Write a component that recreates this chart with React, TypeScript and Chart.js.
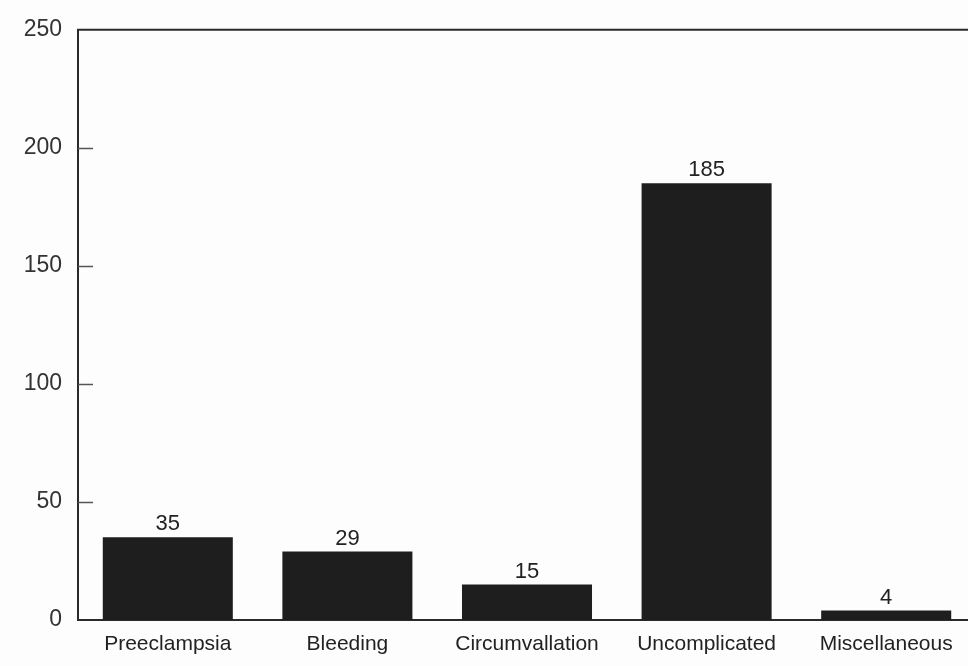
import React, { useEffect, useRef } from "react";
import { Chart, registerables } from "chart.js";

Chart.register(...registerables);

const categories = ["Preeclampsia", "Bleeding", "Circumvallation", "Uncomplicated", "Miscellaneous"];
const counts = [35, 29, 15, 185, 4];
const yTicks = [0, 50, 100, 150, 200, 250];

const INK = "#1e1e1e";
const FONT = "'Liberation Sans', Arial, Helvetica, sans-serif";

const framePlugin = {
  id: "frame",
  afterDraw(chart: any) {
    const { ctx, chartArea } = chart;
    const y = chart.scales.y;
    ctx.save();
    // top border
    ctx.strokeStyle = "#2a2a2a";
    ctx.lineWidth = 2;
    ctx.beginPath();
    ctx.moveTo(chartArea.left - 1, chartArea.top);
    ctx.lineTo(chartArea.right, chartArea.top);
    ctx.stroke();
    // inside tick marks
    ctx.strokeStyle = "#555";
    ctx.lineWidth = 1.5;
    yTicks.forEach((v) => {
      if (v === 0 || v === 250) return;
      const py = Math.round(y.getPixelForValue(v)) + 0.5;
      ctx.beginPath();
      ctx.moveTo(chartArea.left, py);
      ctx.lineTo(chartArea.left + 15, py);
      ctx.stroke();
    });
    // value labels
    const meta = chart.getDatasetMeta(0);
    ctx.fillStyle = "#222";
    ctx.font = `22px ${FONT}`;
    ctx.textAlign = "center";
    ctx.textBaseline = "alphabetic";
    meta.data.forEach((bar: any, i: number) => {
      ctx.fillText(String(counts[i]), bar.x, bar.y - 7);
    });
    ctx.restore();
  },
};

export default function App() {
  const ref = useRef<HTMLCanvasElement | null>(null);
  useEffect(() => {
    if (!ref.current) return;
    const chart = new Chart(ref.current, {
      type: "bar",
      data: {
        labels: categories,
        datasets: [
          {
            data: counts,
            backgroundColor: INK,
            borderWidth: 0,
            categoryPercentage: 1,
            barPercentage: 0.724,
          },
        ],
      },
      plugins: [framePlugin],
      options: {
        animation: false,
        responsive: false,
        devicePixelRatio: 1,
        layout: { padding: { top: 29, right: 0, left: 0, bottom: 0 } },
        plugins: { legend: { display: false }, tooltip: { enabled: false } },
        scales: {
          x: {
            grid: { display: false, drawTicks: false },
            border: { display: true, color: "#2a2a2a", width: 2 },
            ticks: { color: "#222", font: { size: 21, family: FONT }, padding: 12, maxRotation: 0, autoSkip: false },
            afterFit: (s: any) => { s.height = 46; },
          },
          y: {
            min: 0,
            max: 250,
            grid: { display: false, drawTicks: false },
            border: { display: true, color: "#2a2a2a", width: 2 },
            afterBuildTicks: (s: any) => { s.ticks = yTicks.map((v) => ({ value: v })); },
            ticks: { color: "#333", font: { size: 23, family: FONT }, padding: 16 },
            afterFit: (s: any) => { s.width = 78; },
          },
        },
      },
    });
    return () => chart.destroy();
  }, []);
  return (
    <div style={{ position: "fixed", left: 0, top: 0, width: 968, height: 666, overflow: "hidden", background: "#fdfdfd" }}>
      <canvas ref={ref} width={976} height={666} style={{ width: 976, height: 666, display: "block" }} />
    </div>
  );
}
